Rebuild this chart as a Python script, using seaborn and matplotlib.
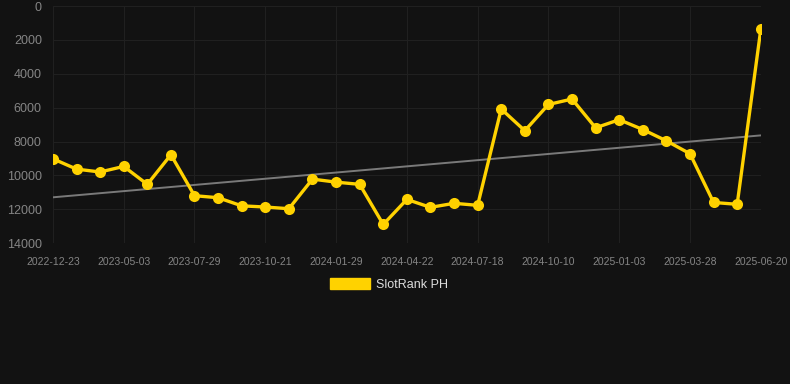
import matplotlib
matplotlib.use("Agg")
import matplotlib.pyplot as plt
import numpy as np
import pandas as pd
import seaborn as sns
from matplotlib.patches import Patch

# ── Data ──────────────────────────────────────────────────────────────────────
dates = [
    "2022-12-23", "2023-02-10", "2023-04-05", "2023-05-03", "2023-06-01",
    "2023-07-01", "2023-07-29", "2023-08-26", "2023-09-23", "2023-10-21",
    "2023-11-25", "2023-12-30", "2024-01-29", "2024-02-26", "2024-03-25",
    "2024-04-22", "2024-05-20", "2024-06-19", "2024-07-18", "2024-08-15",
    "2024-09-12", "2024-10-10", "2024-11-07", "2024-12-06", "2025-01-03",
    "2025-01-31", "2025-02-28", "2025-03-28", "2025-04-25", "2025-05-23",
    "2025-06-20",
]
ranks = [
    9020, 9630, 9800, 9470, 10530, 8780, 11200, 11320, 11800, 11870,
    11970, 10220, 10400, 10530, 12900, 11420, 11890, 11650, 11770, 6080,
    7360, 5810, 5490, 7190, 6710, 7290, 7960, 8720, 11600, 11710,
    1380,
]
series_name = "SlotRank PH"
y_ticks = [0, 2000, 4000, 6000, 8000, 10000, 12000, 14000]

BG = "#121212"
GOLD = "#FFD200"
GRID = "#202020"
TICK = "#858585"

df = pd.DataFrame({"pos": np.arange(len(dates)), "date": dates, "rank": ranks})
slope, intercept = np.polyfit(df["pos"], df["rank"], 1)
df["trend"] = slope * df["pos"] + intercept

# ── Plot ──────────────────────────────────────────────────────────────────────
sns.set_theme(style="dark")
plt.rcParams["font.family"] = ["Liberation Sans", "DejaVu Sans"]

fig = plt.figure(figsize=(7.9, 3.84), dpi=100, facecolor=BG)
ax = fig.add_axes([0.067, 0.367, 0.896, 0.617])
ax.set_facecolor(BG)

sns.lineplot(data=df, x="pos", y="trend", color="#7a7a7a", linewidth=1.4, ax=ax)
sns.lineplot(data=df, x="pos", y="rank", color=GOLD, linewidth=2.4,
             marker="o", markersize=8, markeredgewidth=0,
             markerfacecolor=GOLD, ax=ax)

ax.set_xlim(0, len(dates) - 1)
ax.set_ylim(14000, 0)
ax.set_yticks(y_ticks)
ax.set_yticklabels([str(t) for t in y_ticks])
ax.set_xticks(df["pos"][::3])
ax.set_xticklabels(df["date"][::3])

ax.grid(True, color=GRID, linewidth=0.8)
ax.set_axisbelow(True)
for s in ax.spines.values():
    s.set_visible(False)
ax.tick_params(axis="y", colors=TICK, labelsize=9, length=0, pad=8)
ax.tick_params(axis="x", colors=TICK, labelsize=7.5, length=0, pad=10)
ax.set_xlabel("")
ax.set_ylabel("")

handle = Patch(facecolor=GOLD, edgecolor=GOLD)
fig.legend([handle], [series_name], loc="center", bbox_to_anchor=(0.492, 0.26),
           frameon=False, fontsize=9, labelcolor="#dddddd",
           handlelength=3.2, handleheight=1.0, handletextpad=0.5)

plt.savefig("out.png", dpi=100, facecolor=BG)
plt.close()
